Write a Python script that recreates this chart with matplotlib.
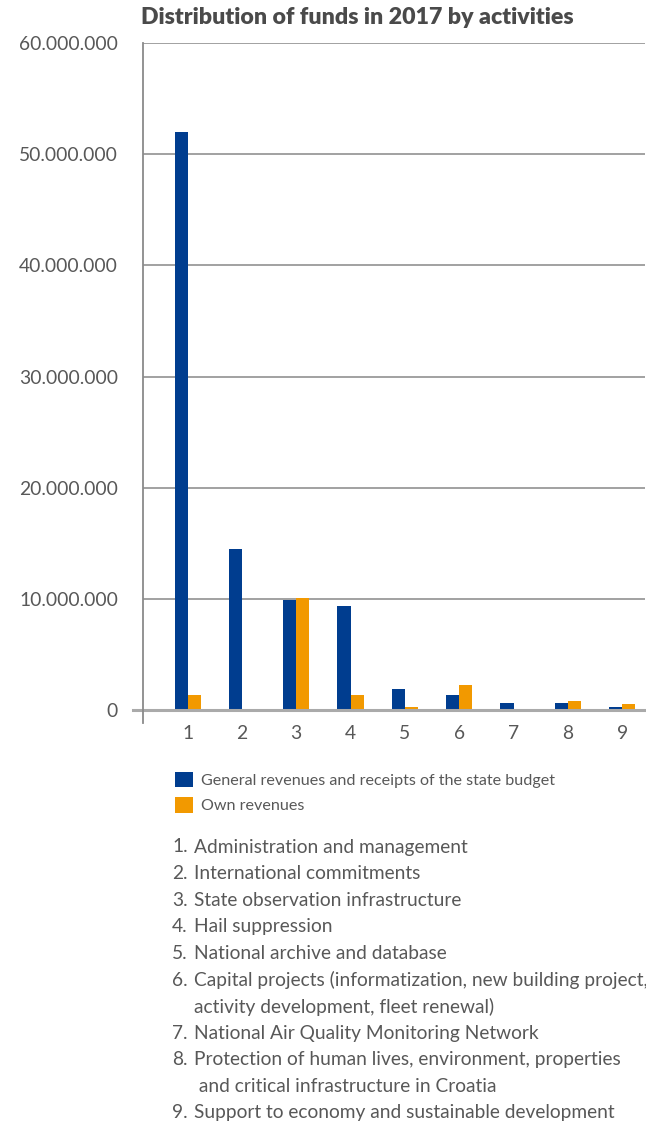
import matplotlib.pyplot as plt
from matplotlib.ticker import FuncFormatter

# values
activities = [1, 2, 3, 4, 5, 6, 7, 8, 9]
state_budget = [52.0e6, 14.5e6, 9.9e6, 9.4e6, 1.9e6, 1.35e6, 0.63e6, 0.63e6, 0.27e6]
own_revenues = [1.35e6, 0, 10.1e6, 1.35e6, 0.27e6, 2.25e6, 0, 0.8e6, 0.55e6]
series_names = ["General revenues and receipts of the state budget", "Own revenues"]
activity_names = [
    "Administration and management",
    "International commitments",
    "State observation infrastructure",
    "Hail suppression",
    "National archive and database",
    "Capital projects (informatization, new building project,\nactivity development, fleet renewal)",
    "National Air Quality Monitoring Network",
    "Protection of human lives, environment, properties\n and critical infrastructure in Croatia",
    "Support to economy and sustainable development",
]

BLUE = "#003d8f"
ORANGE = "#f29900"
TXT = "#585858"
GRID = "#9a9a9a"
W, H = 646, 1126

plt.rcParams["font.family"] = ["Lato", "DejaVu Sans"]

fig = plt.figure(figsize=(W / 100, H / 100), dpi=100)
ax = fig.add_axes([143 / W, 1 - 710 / H, (645 - 143) / W, (710 - 43) / H])

w = 0.24
xs = [a - w / 2 for a in activities]
xo = [a + w / 2 for a in activities]
b1 = ax.bar(xs, state_budget, width=w, color=BLUE, label=series_names[0], zorder=3)
b2 = ax.bar(xo, own_revenues, width=w, color=ORANGE, label=series_names[1], zorder=3)

ax.set_xlim(0.18, 9.42)
ax.set_ylim(0, 60e6)
ax.set_yticks(range(0, 60000001, 10000000))
ax.yaxis.set_major_formatter(FuncFormatter(lambda v, p: f"{int(v):,}".replace(",", ".")))
ax.set_xticks(activities)
ax.tick_params(axis="y", length=0, pad=18, labelsize=13.9, labelcolor=TXT)
ax.tick_params(axis="x", length=0, pad=11, labelsize=13.9, labelcolor=TXT)
ax.grid(axis="y", color=GRID, linewidth=1.3, zorder=0)
for s in ax.spines.values():
    s.set_visible(False)

# axis cross lines, slightly overshooting like the original
ax.plot([-0.02, 1], [0, 0], transform=ax.transAxes, color="#aaaaaa", lw=2.2,
        clip_on=False, zorder=4)
ax.plot([0, 0], [-0.02, 1], transform=ax.transAxes, color="#8a8a8a", lw=1.3,
        clip_on=False, zorder=4)

fig.text(141 / W, 1 - 18 / H, "Distribution of funds in 2017 by activities",
         fontsize=16.7, fontweight="heavy", color="#4a4a4a", va="center", ha="left")

fig.legend(handles=[b1, b2], loc="upper left", bbox_to_anchor=(160 / W, 1 - 757 / H),
           frameon=False, fontsize=11.6,
           handlelength=1.15, handleheight=1.15,
           handletextpad=0.5, labelspacing=0.55, labelcolor=TXT)

y = 847
step = 26.6
for i, name in enumerate(activity_names):
    lines = name.split("\n")
    fig.text(172 / W, 1 - y / H, f"{activities[i]}.", fontsize=13.75, color=TXT,
             va="center", ha="left")
    for ln in lines:
        fig.text(194 / W, 1 - y / H, ln, fontsize=13.75, color=TXT,
                 va="center", ha="left")
        y += step

fig.savefig("out.png", dpi=100, facecolor="white")
